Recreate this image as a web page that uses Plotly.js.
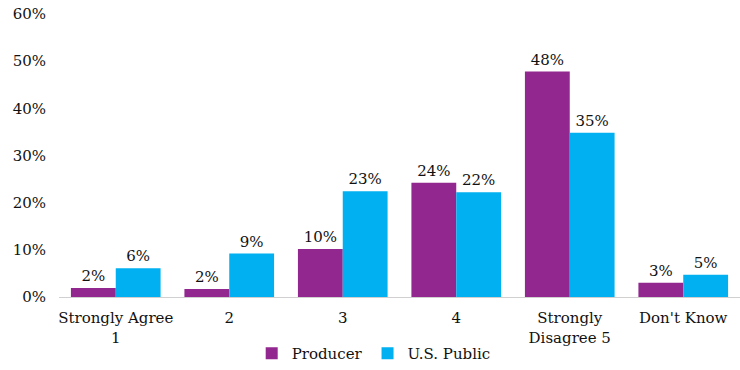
<!DOCTYPE html>
<html><head><meta charset="utf-8">
<script src="https://cdn.plot.ly/plotly-3.0.1.min.js"></script>
<style>html,body{margin:0;padding:0;background:#fff}#c{width:740px;height:370px}</style>
</head><body><div id="c"></div>
<script>
const categories = ["Strongly Agree<br>1", "2", "3", "4", "Strongly<br>Disagree 5", "Don't Know"];
const producerValues = [1.9, 1.7, 10.2, 24.2, 47.8, 3.0];
const publicValues = [6.1, 9.2, 22.4, 22.2, 34.8, 4.7];
const producerLabels = ["2%", "2%", "10%", "24%", "48%", "3%"];
const publicLabels = ["6%", "9%", "23%", "22%", "35%", "5%"];
const yTickVals = [0, 10, 20, 30, 40, 50, 60];
const yTickText = ["0%", "10%", "20%", "30%", "40%", "50%", "60%"];

const font = "DejaVu Serif, Liberation Serif, serif";
const ink = "#111";
const traces = [
  {type: "bar", name: "Producer", x: categories, y: producerValues, text: producerLabels,
   textposition: "outside", cliponaxis: false, marker: {color: "#92278F"},
   textfont: {family: font, size: 15, color: ink}},
  {type: "bar", name: "U.S. Public", x: categories, y: publicValues, text: publicLabels,
   textposition: "outside", cliponaxis: false, marker: {color: "#00B0F0"},
   textfont: {family: font, size: 15, color: ink}}
];
const layout = {
  width: 740, height: 370,
  margin: {l: 59, r: 0, t: 14, b: 73},
  paper_bgcolor: "#fff", plot_bgcolor: "#fff",
  barmode: "group", bargap: 0.21, bargroupgap: 0,
  font: {family: font, size: 15, color: ink},
  xaxis: {type: "category", showline: true, linecolor: "#d0d0d0", linewidth: 1, ticks: "", showgrid: false,
          ticklabelstandoff: 7, tickfont: {family: font, size: 15, color: ink}},
  yaxis: {range: [0, 60], tickvals: yTickVals, ticktext: yTickText, showgrid: false,
          zeroline: false, showline: false, ticks: "", ticklen: 0, ticklabelstandoff: 12,
          tickfont: {family: font, size: 15, color: ink}},
  legend: {orientation: "h", xref: "container", yref: "container", x: 0.505, xanchor: "center",
           y: -0.035, yanchor: "bottom", font: {family: font, size: 15, color: ink},
           itemwidth: 30, tracegroupgap: 0},
  showlegend: true
};
Plotly.newPlot("c", traces, layout, {displayModeBar: false, staticPlot: true});
</script></body></html>
